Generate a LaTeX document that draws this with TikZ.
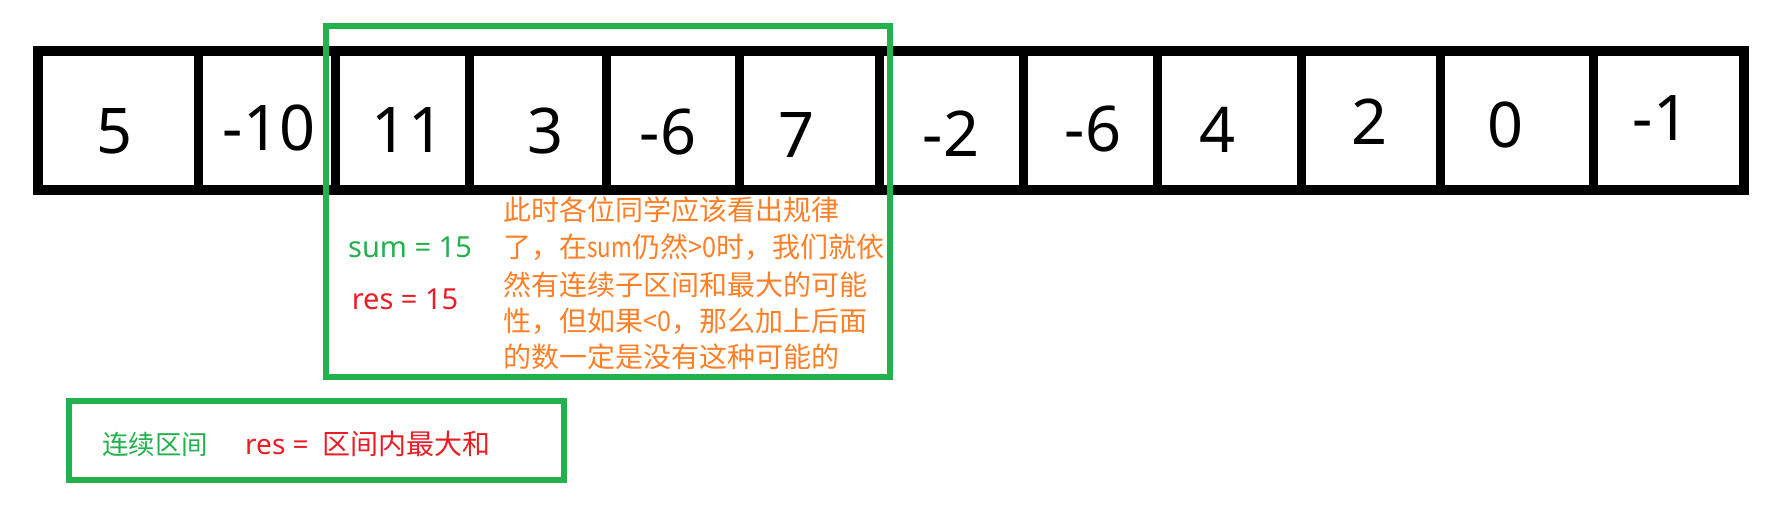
\documentclass[tikz,border=0pt]{standalone}
\usepackage{fontspec}
\usepackage{graphicx}
\setmainfont{Noto Sans}
\newfontfamily\cjk{Noto Sans CJK SC}
\definecolor{boxgreen}{HTML}{22B14C}
\definecolor{notered}{HTML}{ED1C24}
\definecolor{noteorange}{HTML}{FF7F27}
\newcommand{\half}[2]{\scalebox{#1}[1]{#2}}

\begin{document}
\begin{tikzpicture}[x=1pt,y=-1pt,
        cellnum/.style={anchor=base,inner sep=0pt,font=\fontsize{63}{70}\selectfont},
        frame/.style={draw=boxgreen,line width=6pt},
        label/.style={anchor=base,inner sep=0pt,font=\fontsize{29}{34}\selectfont},
        note/.style={anchor=base west,inner sep=0pt,text=noteorange,font=\cjk\fontsize{28}{36}\selectfont}]
    \useasboundingbox (0,0) rectangle (1771,512);
    % the array
    \draw[line width=9.5pt] (38,51) rectangle (1744,190);
    \foreach \x in {198,335,469,606,739,879,1023,1157,1301,1440,1593}
        \draw[line width=9pt] (\x,51) -- (\x,190);
    \foreach \x/\y/\val [count=\i] in {115/153/5, 269/150/-10, 408/152/11, 546/153/3,
            668/154/-6, 797/157/7, 951/156/-2, 1093/151/-6, 1218/152/4,
            1369/144/2, 1505/147/0, 1661/140/-1}
        \node[cellnum] (cell\i) at (\x,\y) {\val};
    % current interval
    \draw[frame] (326,26) rectangle (890,377);
    \node[label,text=boxgreen] (sum) at (410,257) {sum = 15};
    \node[label,text=notered] (res) at (405,309) {res = 15};
    \foreach \y/\txt [count=\i] in {220/此时各位同学应该看出规律,
            257/了，在\half{0.8}{sum}仍然\half{0.9}{>0}时，我们就依,
            295/然有连续子区间和最大的可能,
            331/性，但如果\half{0.9}{<0}，那么加上后面,
            367/的数一定是没有这种可能的}
        \node[note] (note\i) at (503,\y) {\txt};
    % legend
    \draw[frame] (69,401) rectangle (564,480);
    \node[anchor=base west,inner sep=0pt,text=boxgreen,font=\cjk\fontsize{26.5}{30}\selectfont]
        (interval) at (102,454) {连续区间};
    \node[anchor=base west,inner sep=0pt,text=notered,font=\fontsize{28}{32}\selectfont]
        (resdef) at (245,454) {res =\hspace{14pt}{\cjk 区间内最大和}};
\end{tikzpicture}
\end{document}
